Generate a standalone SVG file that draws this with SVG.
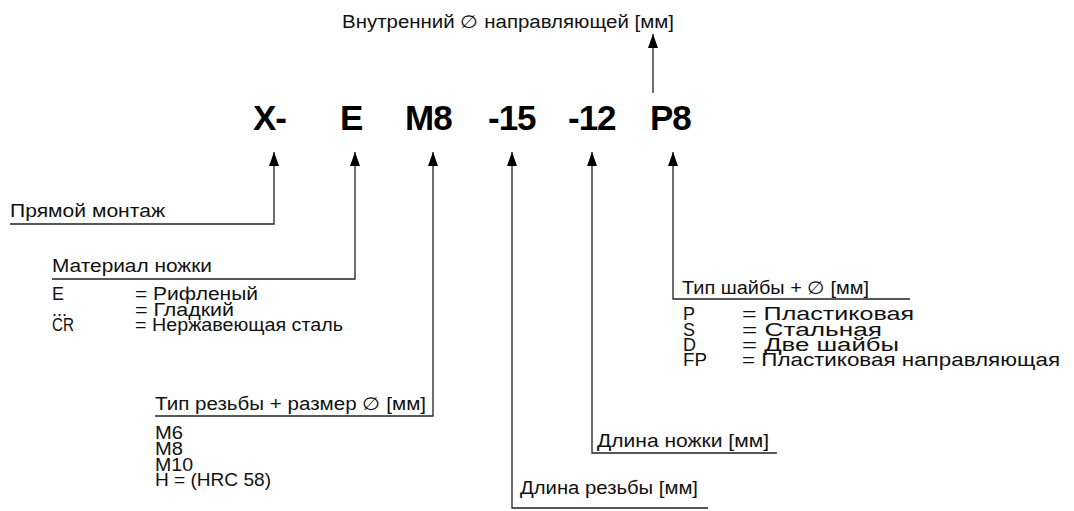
<svg xmlns="http://www.w3.org/2000/svg" width="1074" height="511" viewBox="0 0 1074 511">
<defs>
<marker id="ah" viewBox="0 0 14 10" refX="14" refY="5" markerWidth="14" markerHeight="10" markerUnits="userSpaceOnUse" orient="auto">
<path d="M0,0 L14,5 L0,10 z" fill="#000"/>
</marker>
<style>
.t{font-family:"Liberation Sans",Arial,sans-serif;font-size:18px;fill:#111}
.c{font-family:"Liberation Sans",Arial,sans-serif;font-size:35px;font-weight:bold;fill:#000;letter-spacing:-1px}
.ar{fill:none;stroke:#222;stroke-width:1.3;marker-end:url(#ah)}
</style>
</defs>
<rect width="1074" height="511" fill="#fff"/>
<g id="code">
<text class="c" x="253" y="130">X-</text>
<text class="c" x="340" y="130">E</text>
<text class="c" x="405" y="130">M8</text>
<text class="c" x="488" y="130">-15</text>
<text class="c" x="568" y="130">-12</text>
<text class="c" x="650" y="130">P8</text>
</g>
<g id="connectors">
<polyline class="ar" points="653,93 653,34"/>
<polyline class="ar" points="10,224 274,224 274,152"/>
<polyline class="ar" points="52,279 355,279 355,152"/>
<polyline class="ar" points="155,416 433,416 433,152"/>
<polyline class="ar" points="708,508 512,508 512,152"/>
<polyline class="ar" points="777,453 592,453 592,152"/>
<polyline class="ar" points="910,299 673,299 673,152"/>
</g>
<g id="inner-diameter">
<text class="t" x="342" y="28" textLength="332" lengthAdjust="spacingAndGlyphs">Внутренний ∅ направляющей [мм]</text>
</g>
<g id="direct-mount">
<text class="t" x="10" y="217" textLength="155" lengthAdjust="spacingAndGlyphs">Прямой монтаж</text>
</g>
<g id="foot-material">
<text class="t" x="52" y="272" textLength="160" lengthAdjust="spacingAndGlyphs">Материал ножки</text>
<text class="t" x="52" y="300">E</text><text class="t" x="135" y="300" textLength="123" lengthAdjust="spacingAndGlyphs">= Рифленый</text>
<text class="t" x="52" y="316">...</text><text class="t" x="135" y="316" textLength="99" lengthAdjust="spacingAndGlyphs">= Гладкий</text>
<text class="t" x="52" y="331" textLength="22" lengthAdjust="spacingAndGlyphs">CR</text><text class="t" x="135" y="331" textLength="208" lengthAdjust="spacingAndGlyphs">= Нержавеющая сталь</text>
</g>
<g id="thread-type">
<text class="t" x="155" y="410" textLength="271" lengthAdjust="spacingAndGlyphs">Тип резьбы + размер ∅ [мм]</text>
<text class="t" x="155" y="439" textLength="28" lengthAdjust="spacingAndGlyphs">M6</text>
<text class="t" x="155" y="455" textLength="28" lengthAdjust="spacingAndGlyphs">M8</text>
<text class="t" x="155" y="471" textLength="38" lengthAdjust="spacingAndGlyphs">M10</text>
<text class="t" x="155" y="486" textLength="116" lengthAdjust="spacingAndGlyphs">H = (HRC 58)</text>
</g>
<g id="thread-length">
<text class="t" x="520" y="494" textLength="178" lengthAdjust="spacingAndGlyphs">Длина резьбы [мм]</text>
</g>
<g id="foot-length">
<text class="t" x="597" y="447" textLength="172" lengthAdjust="spacingAndGlyphs">Длина ножки [мм]</text>
</g>
<g id="washer-type">
<text class="t" x="682" y="294" textLength="187" lengthAdjust="spacingAndGlyphs">Тип шайбы + ∅ [мм]</text>
<text class="t" x="683" y="320">P</text><text class="t" x="742" y="320" textLength="172" lengthAdjust="spacingAndGlyphs">= Пластиковая</text>
<text class="t" x="683" y="336">S</text><text class="t" x="742" y="336" textLength="140" lengthAdjust="spacingAndGlyphs">= Стальная</text>
<text class="t" x="683" y="351">D</text><text class="t" x="742" y="351" textLength="157" lengthAdjust="spacingAndGlyphs">= Две шайбы</text>
<text class="t" x="683" y="366" textLength="24" lengthAdjust="spacingAndGlyphs">FP</text><text class="t" x="742" y="366" textLength="318" lengthAdjust="spacingAndGlyphs">= Пластиковая направляющая</text>
</g>
</svg>
